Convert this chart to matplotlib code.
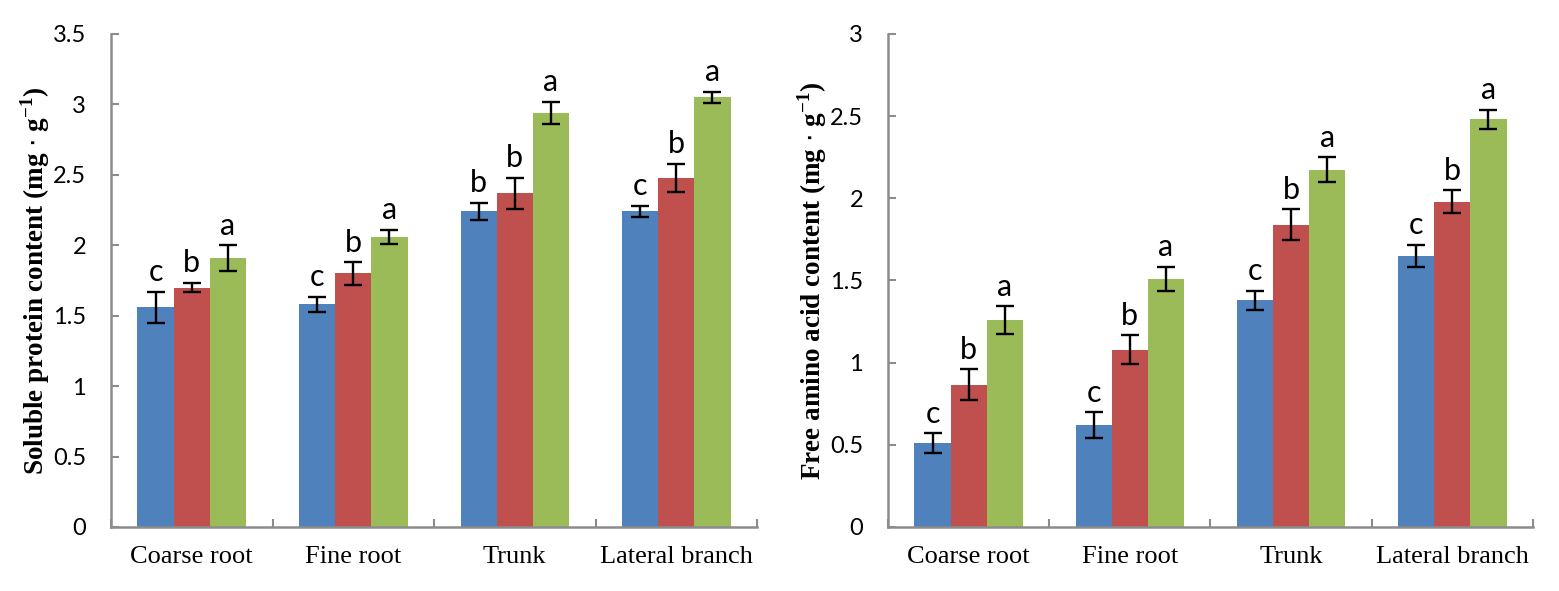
import numpy as np
import matplotlib
matplotlib.use("Agg")
import matplotlib.pyplot as plt

categories = ["Coarse root", "Fine root", "Trunk", "Lateral branch"]

# soluble protein content (mg g-1)
prot_blue = [1.56, 1.58, 2.24, 2.24]
prot_red = [1.70, 1.80, 2.37, 2.48]
prot_green = [1.91, 2.06, 2.94, 3.05]
prot_blue_err = [0.11, 0.055, 0.06, 0.04]
prot_red_err = [0.035, 0.08, 0.11, 0.10]
prot_green_err = [0.09, 0.05, 0.08, 0.04]
prot_letters = [["c", "b", "a"], ["c", "b", "a"], ["b", "b", "a"], ["c", "b", "a"]]

# free amino acid content (mg g-1)
amino_blue = [0.51, 0.62, 1.38, 1.65]
amino_red = [0.865, 1.08, 1.84, 1.98]
amino_green = [1.26, 1.51, 2.175, 2.48]
amino_blue_err = [0.06, 0.077, 0.058, 0.066]
amino_red_err = [0.095, 0.086, 0.092, 0.07]
amino_green_err = [0.083, 0.075, 0.075, 0.059]
amino_letters = [["c", "b", "a"], ["c", "b", "a"], ["c", "b", "a"], ["c", "b", "a"]]

colors = ["#4F81BD", "#C0504D", "#9BBB59"]
axis_color = "#8C8C8C"

fig = plt.figure(figsize=(15.59, 5.91), dpi=100)
ax1 = fig.add_axes([0.0712, 0.1083, 0.4144, 0.8342])
ax2 = fig.add_axes([0.5696, 0.1083, 0.4137, 0.8342])


def draw_panel(ax, series, errs, letters, ymax, ystep, ylabel):
    x = np.arange(len(categories))
    w = 0.224
    for i, (vals, err) in enumerate(zip(series, errs)):
        pos = x + (i - 1) * w
        ax.bar(pos, vals, width=w, color=colors[i], zorder=2)
        ax.errorbar(pos, vals, yerr=err, fmt="none", ecolor="black",
                    elinewidth=1.7, capsize=6.5, capthick=1.7, zorder=3)
        for j in range(len(categories)):
            ax.annotate(letters[j][i], (pos[j], vals[j] + err[j]),
                        xytext=(0, 4), textcoords="offset points",
                        ha="center", va="bottom", fontsize=22,
                        family="Lato")
    ax.set_xlim(-0.5, len(categories) - 0.5)
    ax.set_ylim(0, ymax)
    ticks = np.arange(0, ymax + 0.001, ystep)
    ax.set_yticks(ticks)
    ax.set_yticklabels(["%g" % v for v in ticks], family="Lato", fontsize=17)
    # tick marks at category boundaries, labels at centres
    ax.set_xticks(np.arange(-0.5, len(categories)), minor=False)
    ax.set_xticklabels([])
    ax.set_xticks(x, minor=True)
    ax.set_xticklabels(categories, minor=True, family="Liberation Serif",
                       fontsize=19)
    ax.tick_params(axis="x", which="major", direction="in", length=6,
                   color=axis_color, width=1.5)
    ax.tick_params(axis="x", which="minor", length=0, pad=14)
    ax.tick_params(axis="y", direction="in", length=6, color=axis_color,
                   width=1.5, pad=18)
    for s in ["top", "right"]:
        ax.spines[s].set_visible(False)
    for s in ["left", "bottom"]:
        ax.spines[s].set_color(axis_color)
        ax.spines[s].set_linewidth(1.8)
    ax.set_ylabel(ylabel, family="Liberation Serif", fontweight="bold",
                  fontsize=19.5)
    ax.yaxis.set_label_coords(-0.092, 0.5)


draw_panel(ax1, [prot_blue, prot_red, prot_green],
           [prot_blue_err, prot_red_err, prot_green_err], prot_letters,
           3.5, 0.5, r"Soluble protein content (mg $\cdot$ g$^{\mathregular{-1}}$)")
draw_panel(ax2, [amino_blue, amino_red, amino_green],
           [amino_blue_err, amino_red_err, amino_green_err], amino_letters,
           3.0, 0.5, r"Free amino acid content (mg $\cdot$ g$^{\mathregular{-1}}$)")

fig.savefig("out.png", dpi=100)
